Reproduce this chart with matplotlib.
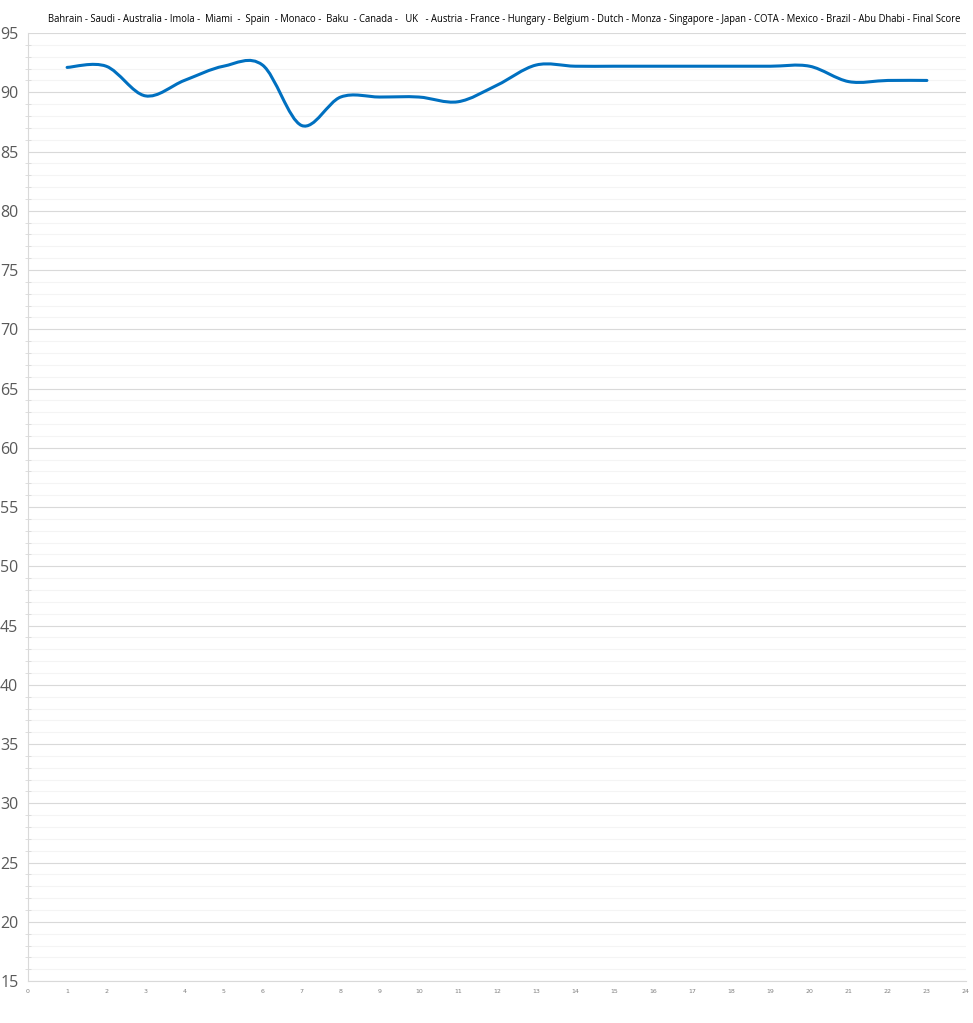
import matplotlib
matplotlib.use("Agg")
import matplotlib.pyplot as plt
from matplotlib.path import Path
from matplotlib.patches import PathPatch
from matplotlib.ticker import MultipleLocator

races = ["Bahrain", "Saudi", "Australia", "Imola", " Miami ", " Spain ", "Monaco", " Baku ",
         "Canada", "  UK  ", "Austria", "France", "Hungary", "Belgium", "Dutch", "Monza",
         "Singapore", "Japan", "COTA", "Mexico", "Brazil", "Abu Dhabi", "Final Score"]
rounds = list(range(1, 24))
score = [92.1, 92.2, 89.7, 91.0, 92.2, 92.3, 87.2, 89.6, 89.6, 89.6, 89.2, 90.6,
         92.3, 92.2, 92.2, 92.2, 92.2, 92.2, 92.2, 92.2, 90.9, 91.0, 91.0]


def smooth_path(xs, ys):
    # Excel-style smoothed line: cubic bezier, control points from neighbours / 6
    pts = list(zip(xs, ys))
    verts = [pts[0]]
    codes = [Path.MOVETO]
    n = len(pts)
    for i in range(n - 1):
        p0 = pts[max(i - 1, 0)]
        p1 = pts[i]
        p2 = pts[i + 1]
        p3 = pts[min(i + 2, n - 1)]
        c1 = (p1[0] + (p2[0] - p0[0]) / 6, p1[1] + (p2[1] - p0[1]) / 6)
        c2 = (p2[0] - (p3[0] - p1[0]) / 6, p2[1] - (p3[1] - p1[1]) / 6)
        verts += [c1, c2, p2]
        codes += [Path.CURVE4] * 3
    return Path(verts, codes)


fig = plt.figure(figsize=(9.73, 10.23), dpi=100)
ax = fig.add_axes([0.0288, 0.041, 0.964, 0.9267])

ax.add_patch(PathPatch(smooth_path(rounds, score), facecolor="none",
                       edgecolor="#0070C0", lw=2.2, capstyle="round", zorder=3))

ax.set_xlim(0, 24)
ax.set_ylim(15, 95)
ax.xaxis.set_major_locator(MultipleLocator(1))
ax.yaxis.set_major_locator(MultipleLocator(5))
ax.yaxis.set_minor_locator(MultipleLocator(1))
ax.grid(which="major", axis="y", color="#d9d9d9", lw=0.8)
ax.grid(which="minor", axis="y", color="#f4f4f4", lw=0.8)
ax.set_axisbelow(True)

for s in ("top", "right"):
    ax.spines[s].set_visible(False)
ax.spines["left"].set_color("#d9d9d9")
ax.spines["bottom"].set_color("#d9d9d9")

ax.tick_params(axis="y", which="major", length=0, labelsize=11.5, labelcolor="#595959", pad=7)
ax.tick_params(axis="y", which="minor", direction="inout", length=5, color="#d9d9d9")
ax.tick_params(axis="x", length=0, labelsize=4.5, labelcolor="#7f7f7f", pad=6)
for lbl in ax.get_yticklabels():
    lbl.set_fontfamily("Open Sans")

title = " - ".join(races)
fig.text(0.518, 0.981, title, ha="center", va="center", fontsize=6.85,
         family="Open Sans", color="#000000")

fig.savefig("out.png", dpi=100, facecolor="white")
